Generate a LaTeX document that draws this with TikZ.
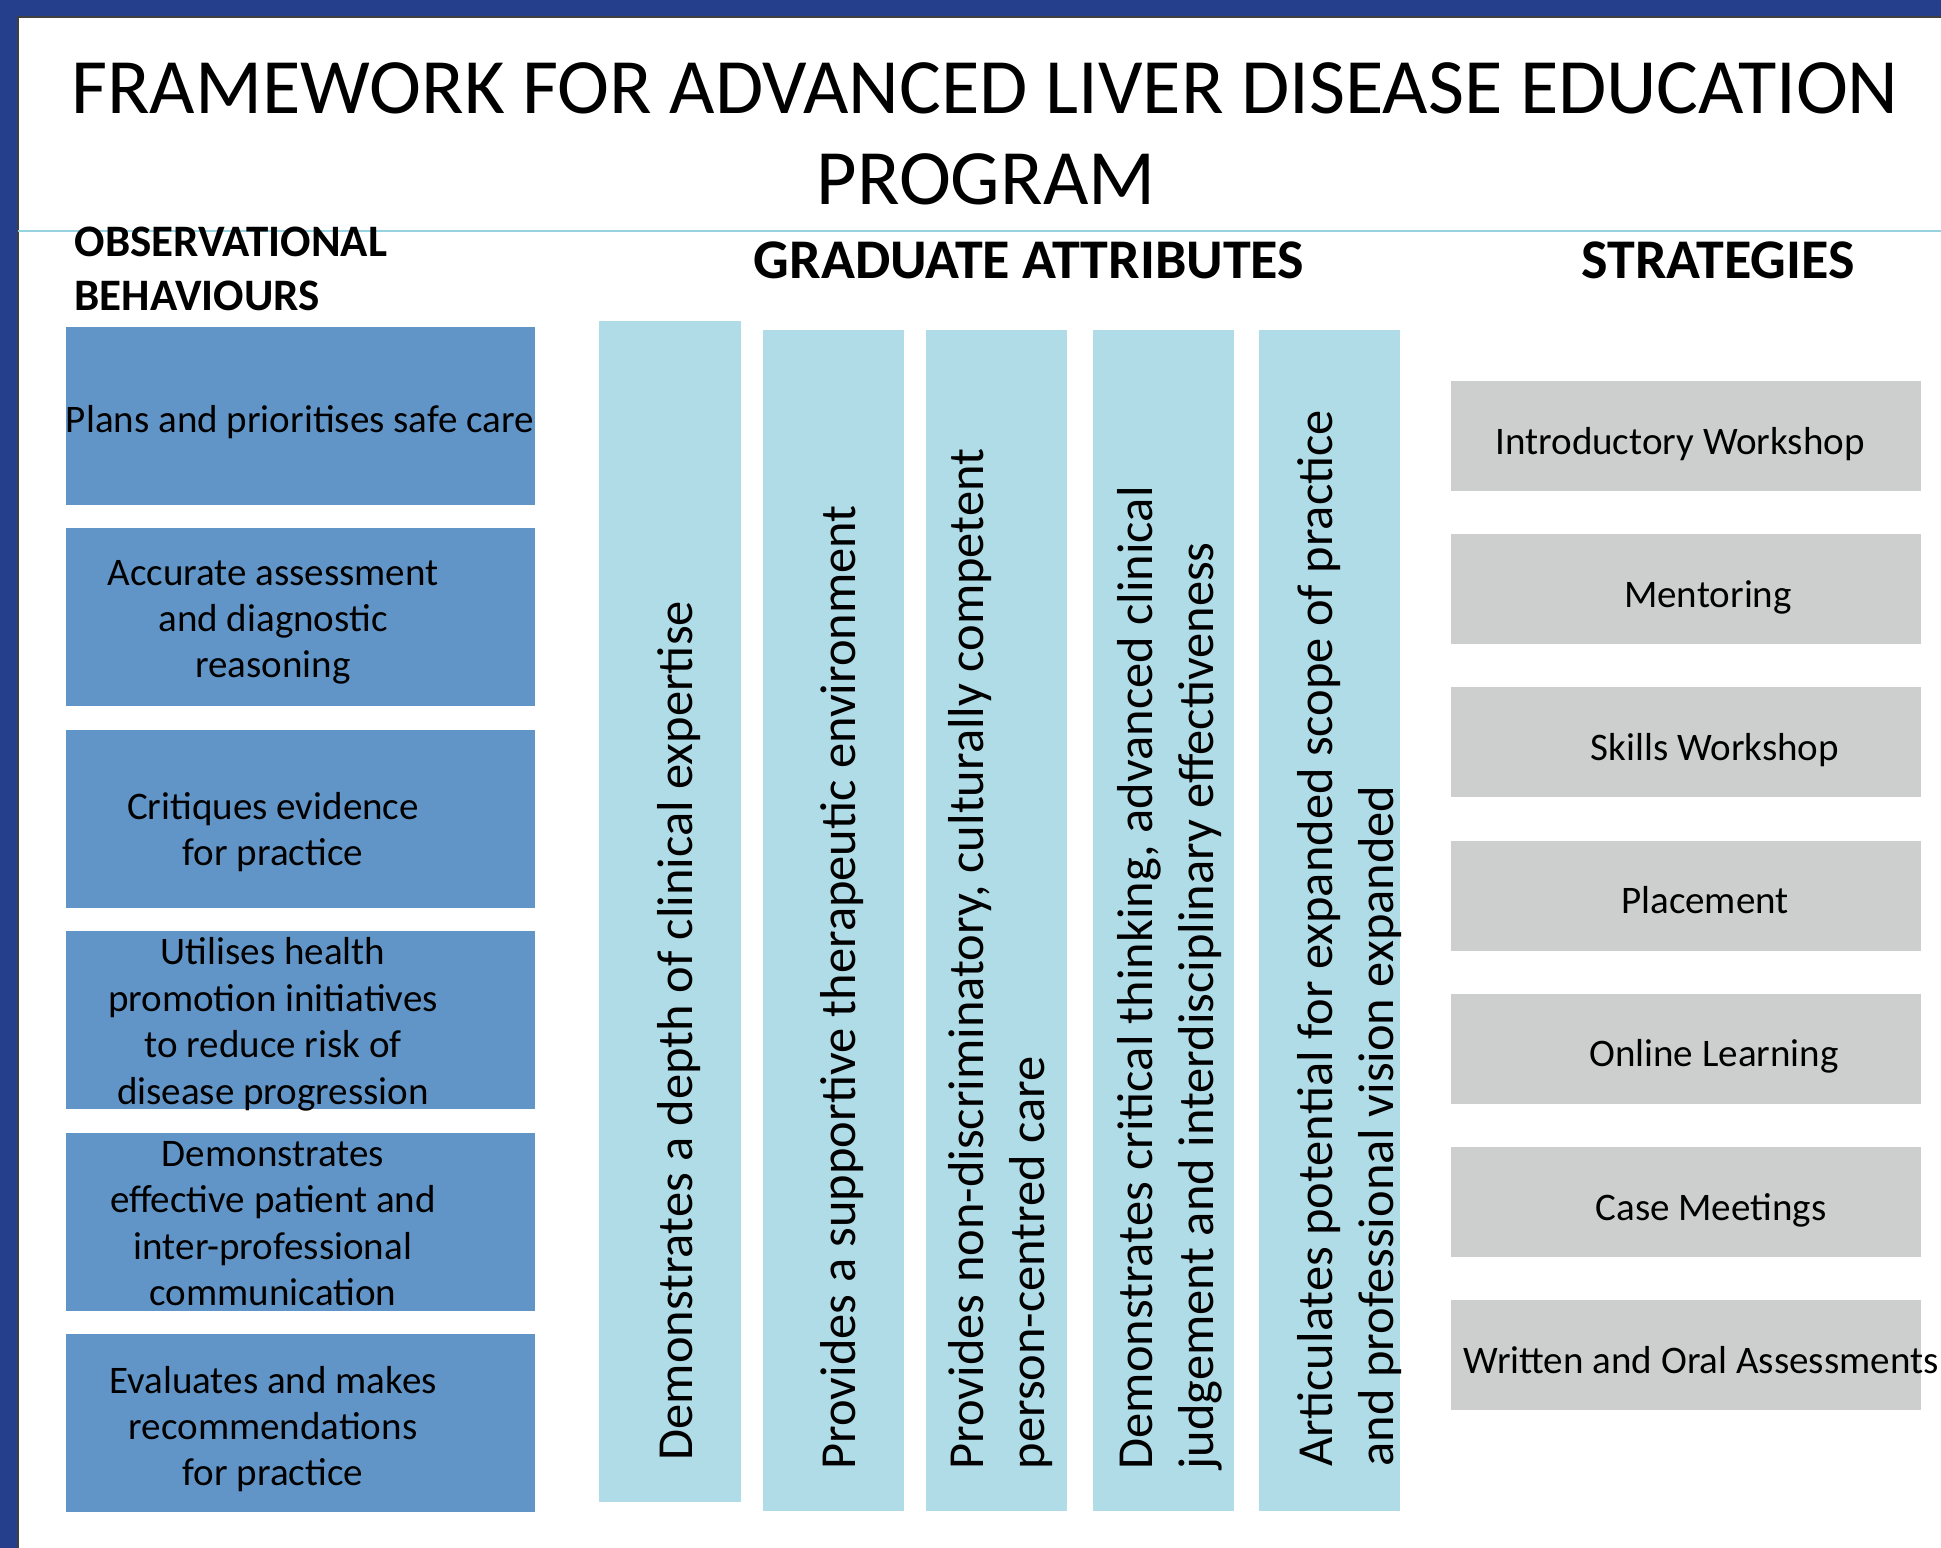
\documentclass[tikz,border=0pt]{standalone}
\usepackage{fontspec}
\setmainfont{Carlito}
\usetikzlibrary{positioning}
\definecolor{framedark}{RGB}{38, 63, 140}
\definecolor{behavblue}{RGB}{97, 149, 199}
\definecolor{attrblue}{RGB}{175, 220, 230}
\definecolor{stratgrey}{RGB}{205, 207, 206}
\definecolor{ruleblue}{RGB}{150, 210, 224}

\begin{document}
\begin{tikzpicture}[x=0.01cm, y=-0.01cm,
    behavbox/.style={fill=behavblue, minimum width=4.69cm, minimum height=1.78cm, inner sep=0pt},
    behavtext/.style={align=center, inner sep=0pt, font=\fontsize{11.1}{13.2}\selectfont},
    attrbox/.style={fill=attrblue, minimum width=1.41cm, minimum height=11.81cm, inner sep=0pt, anchor=south},
    attrtext/.style={rotate=90, anchor=base west, align=left, inner sep=0pt, font=\fontsize{14.35}{17.07}\selectfont},
    stratbox/.style={fill=stratgrey, minimum width=4.70cm, minimum height=1.10cm, inner sep=0pt},
    strattext/.style={anchor=base, inner sep=0pt, font=\fontsize{11.1}{13.4}\selectfont},
    heading/.style={anchor=base, inner sep=0pt, font=\fontsize{15.93}{19}\selectfont\bfseries}]
    \useasboundingbox (0,0) rectangle (1941,1548);

    % Frame
    \fill[framedark] (0,0) rectangle (1941,17);
    \fill[framedark] (0,0) rectangle (18,1548);
    \draw[black!75, line width=0.5pt] (18,1548) -- (18,17) -- (1941,17);

    % Title
    \node (title1) [anchor=base, inner sep=0pt, font=\fontsize{22.3}{26}\selectfont] at (985,113) {FRAMEWORK FOR ADVANCED LIVER DISEASE EDUCATION};
    \node (title2) [anchor=base, inner sep=0pt, font=\fontsize{22.3}{26}\selectfont] at (986,204) {PROGRAM};
    \draw[ruleblue, line width=0.8pt] (18,231) -- (1941,231);

    % Column headings (base = last line)
    \node (obshead) [anchor=base west, align=left, inner sep=0pt, font=\fontsize{12.8}{15.08}\selectfont\bfseries] at (74,310) {OBSERVATIONAL\\BEHAVIOURS};
    \node (attrhead) [heading] at (1029,278) {GRADUATE ATTRIBUTES};
    \node (strathead) [heading] at (1718,278) {STRATEGIES};

    % Observational behaviours
    \foreach \tx/\dy/\txt [count=\i] in {
        300/6/{Plans and prioritises safe care},
        273/5/{Accurate assessment\\and diagnostic\\reasoning},
        273/13/{Critiques evidence\\for practice},
        273/4/{Utilises health\\promotion initiatives\\to reduce risk of\\disease progression},
        273/2/{Demonstrates\\effective patient and\\inter-professional\\communication},
        273/6/{Evaluates and makes\\recommendations\\for practice}} {
        \node (behav\i) [behavbox] at (300.5, {416+201.4*(\i-1)}) {};
        \node (behavtxt\i) [behavtext] at (\tx, {416+\dy+201.4*(\i-1)}) {\txt};
    }

    % Graduate attributes (base west = start of last line)
    \foreach \cx/\bot [count=\i] in {670/1503, 833.5/1512, 996.5/1512, 1163.5/1512, 1329.5/1512}
        \node (attr\i) [attrbox] at (\cx,\bot) {};
    \node (attrtxt1) [attrtext] at (692,1461) {Demonstrates a depth of clinical expertise};
    \node (attrtxt2) [attrtext] at (855,1470) {Provides a supportive therapeutic environment};
    \node (attrtxt3) [attrtext] at (1044,1470) {Provides non-discriminatory, culturally competent\\person-centred care};
    \node (attrtxt4) [attrtext] at (1213,1470) {Demonstrates critical thinking, advanced clinical\\judgement and interdisciplinary effectiveness};
    \node (attrtxt5) [attrtext] at (1393,1467) {Articulates potential for expanded scope of practice\\and professional vision expanded};

    % Strategies
    \foreach \tx/\txt [count=\i] in {
        1680/{Introductory Workshop}, 1708/{Mentoring}, 1715/{Skills Workshop},
        1705/{Placement}, 1714/{Online Learning}, 1711/{Case Meetings},
        1701/{Written and Oral Assessments}} {
        \node (strat\i) [stratbox] at (1686, {436+153.2*(\i-1)}) {};
        \node (strattxt\i) [strattext] at (\tx, {454+153.2*(\i-1)}) {\txt};
    }
\end{tikzpicture}
\end{document}
